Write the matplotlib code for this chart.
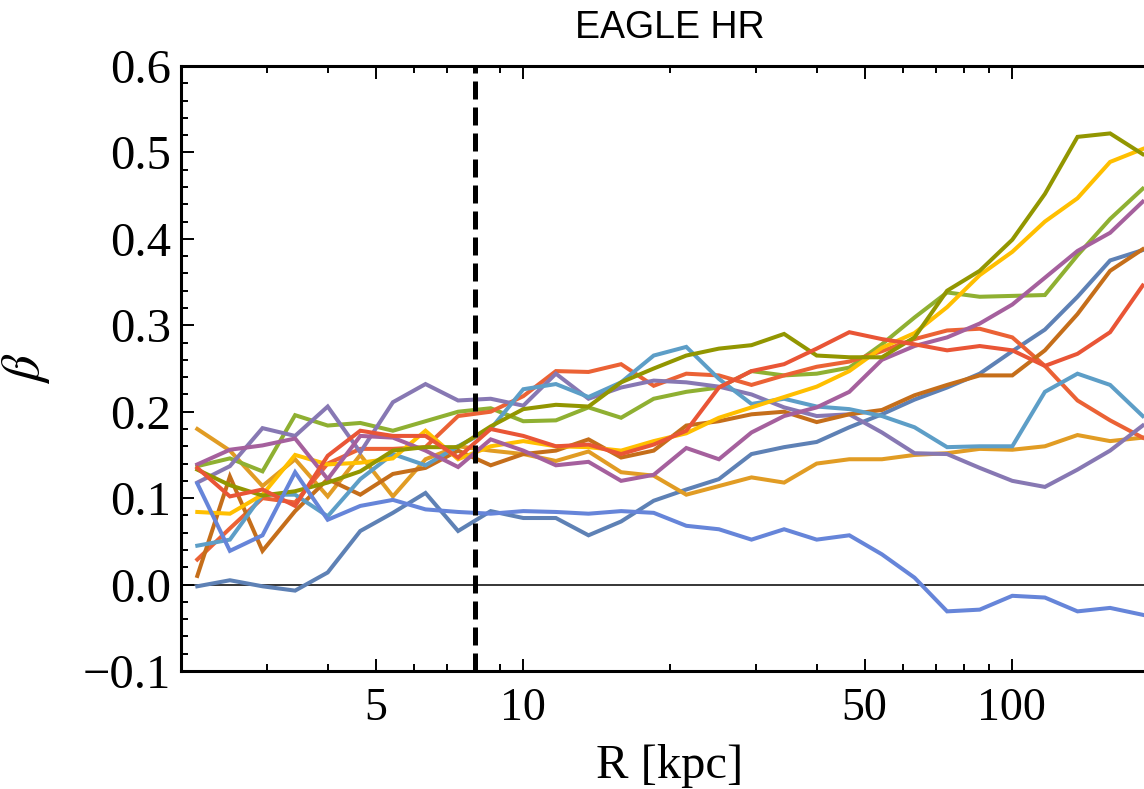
import numpy as np
import matplotlib
matplotlib.use("Agg")
import matplotlib.pyplot as plt
from matplotlib.ticker import FixedLocator, NullFormatter, MultipleLocator

plt.rcParams['font.family'] = ['Liberation Serif', 'DejaVu Serif']
plt.rcParams['mathtext.fontset'] = 'stix'

# radial bin centres: 30 log bins between 2 and 200 kpc
R = 10 ** (np.log10(2) + (np.arange(30) + 0.5) * 2 / 30)

steelblue = [-0.002, 0.005, -0.002, -0.007, 0.014, 0.062, 0.083, 0.106, 0.062, 0.085,
             0.077, 0.077, 0.057, 0.073, 0.097, 0.110, 0.122, 0.151, 0.159, 0.165,
             0.182, 0.197, 0.214, 0.228, 0.244, 0.270, 0.295, 0.333, 0.375, 0.387]
orange = [0.180, 0.155, 0.114, 0.145, 0.102, 0.150, 0.102, 0.145, 0.160, 0.155,
          0.151, 0.143, 0.154, 0.130, 0.126, 0.104, 0.114, 0.124, 0.118, 0.140,
          0.145, 0.145, 0.150, 0.152, 0.157, 0.156, 0.160, 0.173, 0.166, 0.170]
green = [0.137, 0.146, 0.131, 0.196, 0.184, 0.187, 0.178, 0.189, 0.200, 0.204,
         0.189, 0.190, 0.205, 0.193, 0.215, 0.223, 0.228, 0.247, 0.242, 0.244,
         0.251, 0.278, 0.309, 0.338, 0.333, 0.334, 0.335, 0.381, 0.423, 0.458]
redorange = [0.029, 0.065, 0.100, 0.095, 0.140, 0.157, 0.157, 0.159, 0.195, 0.200,
             0.218, 0.247, 0.246, 0.255, 0.230, 0.244, 0.242, 0.231, 0.242, 0.252,
             0.258, 0.270, 0.284, 0.294, 0.296, 0.286, 0.253, 0.213, 0.190, 0.170]
purple = [0.118, 0.137, 0.181, 0.172, 0.206, 0.153, 0.211, 0.232, 0.213, 0.215,
          0.207, 0.244, 0.215, 0.228, 0.236, 0.234, 0.229, 0.220, 0.205, 0.195,
          0.197, 0.176, 0.152, 0.151, 0.135, 0.120, 0.113, 0.133, 0.155, 0.184]
brown = [0.010, 0.125, 0.039, 0.085, 0.122, 0.104, 0.128, 0.135, 0.155, 0.138,
         0.151, 0.155, 0.168, 0.147, 0.155, 0.184, 0.189, 0.197, 0.200, 0.188,
         0.197, 0.202, 0.219, 0.231, 0.242, 0.242, 0.271, 0.313, 0.363, 0.388]
lightblue = [0.045, 0.052, 0.104, 0.104, 0.079, 0.122, 0.151, 0.138, 0.160, 0.180,
             0.226, 0.232, 0.217, 0.234, 0.265, 0.275, 0.238, 0.209, 0.215, 0.206,
             0.203, 0.195, 0.182, 0.159, 0.160, 0.160, 0.223, 0.244, 0.231, 0.195]
yellow = [0.084, 0.082, 0.104, 0.150, 0.139, 0.141, 0.146, 0.178, 0.145, 0.160,
          0.166, 0.160, 0.159, 0.155, 0.166, 0.175, 0.193, 0.205, 0.217, 0.229,
          0.247, 0.274, 0.291, 0.321, 0.358, 0.385, 0.420, 0.447, 0.489, 0.504]
magenta = [0.139, 0.156, 0.161, 0.169, 0.122, 0.172, 0.170, 0.155, 0.136, 0.168,
           0.155, 0.138, 0.142, 0.120, 0.127, 0.158, 0.145, 0.176, 0.195, 0.205,
           0.223, 0.260, 0.276, 0.286, 0.302, 0.324, 0.355, 0.386, 0.407, 0.443]
olive = [0.133, 0.115, 0.103, 0.108, 0.118, 0.131, 0.155, 0.159, 0.159, 0.183,
         0.203, 0.208, 0.206, 0.234, 0.250, 0.265, 0.273, 0.277, 0.290, 0.265,
         0.263, 0.263, 0.286, 0.340, 0.363, 0.399, 0.452, 0.518, 0.522, 0.498]
red = [0.135, 0.102, 0.110, 0.091, 0.149, 0.178, 0.172, 0.172, 0.147, 0.180,
       0.172, 0.160, 0.162, 0.151, 0.162, 0.178, 0.228, 0.247, 0.255, 0.273,
       0.292, 0.284, 0.278, 0.271, 0.276, 0.271, 0.253, 0.267, 0.292, 0.346]
blue = [0.117, 0.039, 0.057, 0.130, 0.075, 0.091, 0.098, 0.087, 0.084, 0.082,
        0.085, 0.084, 0.082, 0.085, 0.083, 0.068, 0.064, 0.052, 0.064, 0.052,
        0.057, 0.035, 0.008, -0.031, -0.029, -0.013, -0.015, -0.031, -0.027, -0.035]

halos = [steelblue, orange, green, redorange, purple, brown,
         lightblue, yellow, magenta, olive, red, blue]
colors = ['#5E81B5', '#E19C24', '#8FB032', '#EB6235', '#8778B3', '#C56E1A',
          '#5D9EC7', '#FFBF00', '#A5609D', '#929600', '#E95536', '#6685D9']

R_sun = 8.0

fig = plt.figure(figsize=(11.44, 7.89), dpi=100)
ax = fig.add_axes([181 / 1144, 1 - 671 / 789, (1159 - 181) / 1144, (671 - 66) / 789])

ax.axhline(0, color='black', lw=1.1, zorder=1)
for beta, c in zip(halos, colors):
    ax.plot(R, beta, color=c, lw=2.9, solid_joinstyle='miter', zorder=2)
ax.axvline(R_sun, color='black', lw=3.6, ls=(0, (3.6, 1.6)), zorder=3)

ax.set_xscale('log')
ax.set_xlim(2, 200)
ax.set_ylim(-0.1, 0.6)

ax.xaxis.set_major_locator(FixedLocator([5, 10, 50, 100]))
ax.xaxis.set_minor_locator(FixedLocator([3, 4, 6, 7, 8, 9, 20, 30, 40, 60, 70, 80, 90]))
ax.xaxis.set_minor_formatter(NullFormatter())
ax.set_xticklabels(['5', '10', '50', '100'])
ax.yaxis.set_minor_locator(MultipleLocator(0.02))
ax.set_yticks(np.arange(-0.1, 0.61, 0.1))
ax.set_yticklabels(['\u22120.1', '0.0', '0.1', '0.2', '0.3', '0.4', '0.5', '0.6'])

ax.tick_params(which='both', direction='in', top=True, right=False, width=1.4)
ax.tick_params(which='major', length=9)
ax.tick_params(which='minor', length=5)
ax.tick_params(axis='x', which='major', labelsize=33, pad=12)
ax.tick_params(axis='y', which='major', labelsize=35, pad=7)

for s in ['left', 'bottom', 'top']:
    ax.spines[s].set_linewidth(2.2)
ax.spines['right'].set_visible(False)

ax.set_ylabel(r'$\beta$', fontsize=38, labelpad=22)
ax.set_title('EAGLE HR', fontsize=27, family='Liberation Sans', pad=20)
fig.text(670 / 1144, 1 - 766 / 789, 'R [kpc]', fontsize=35, ha='center', va='center')

fig.savefig('out.png', dpi=100)
